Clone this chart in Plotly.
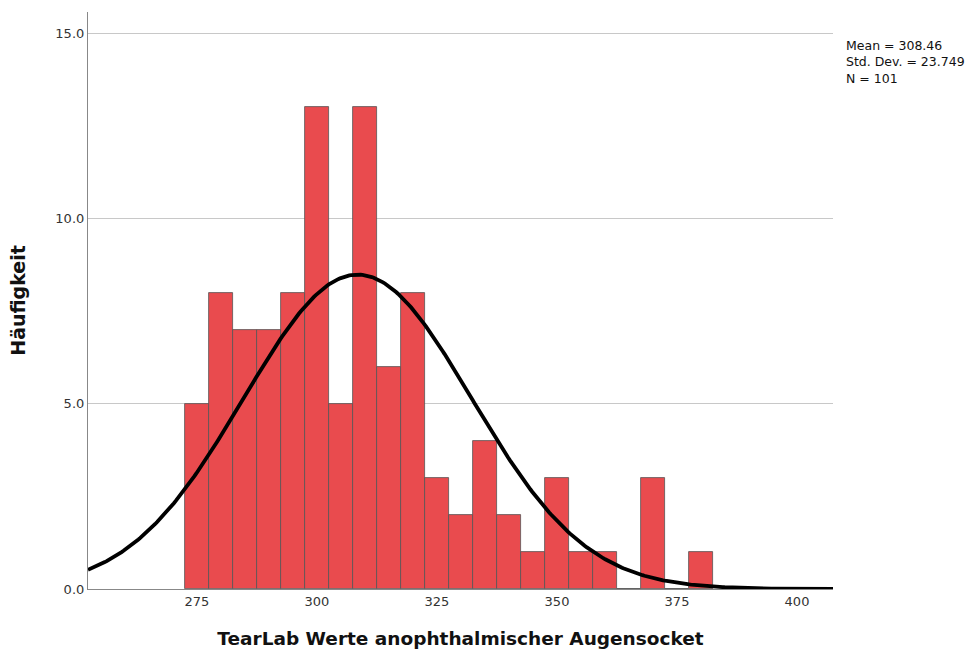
import numpy as np
import plotly.graph_objects as go

# Histogram bins (centers, width 5) and counts
bin_centers = [275, 280, 285, 290, 295, 300, 305, 310, 315, 320, 325, 330,
               335, 340, 345, 350, 355, 360, 365, 370, 375, 380]
counts = [5, 8, 7, 7, 8, 13, 5, 13, 6, 8, 3, 2,
          4, 2, 1, 3, 1, 1, 0, 3, 0, 1]
bin_width = 5

mean_val = 308.46
std_val = 23.749
n_val = 101

x_ticks = [275, 300, 325, 350, 375, 400]
y_ticks = [0, 5, 10, 15]
y_tick_text = ["0.0", "5.0", "10.0", "15.0"]

x_range = [252.3, 407.5]
y_range = [0, 15.57]

stat_lines = [f"Mean = {mean_val:.2f}", f"Std. Dev. = {std_val:.3f}", f"N = {n_val}"]

# Normal curve from the reported mean / SD, scaled to counts
xc = np.linspace(x_range[0], x_range[1], 400)
yc = n_val * bin_width / (std_val * np.sqrt(2 * np.pi)) * np.exp(-0.5 * ((xc - mean_val) / std_val) ** 2)

fig = go.Figure()
fig.add_trace(go.Bar(
    x=bin_centers, y=counts, width=[bin_width] * len(bin_centers),
    marker=dict(color="#E94B4E", line=dict(color="#555555", width=0.8)),
    showlegend=False, hoverinfo="x+y",
))
fig.add_trace(go.Scatter(
    x=xc, y=yc, mode="lines", line=dict(color="black", width=3.8),
    showlegend=False, hoverinfo="skip",
))

font_family = "DejaVu Sans"
plot_top, plot_bottom = 12, 589

fig.update_layout(
    width=980, height=657,
    margin=dict(l=88, r=147, t=plot_top, b=657 - plot_bottom),
    paper_bgcolor="white", plot_bgcolor="white",
    bargap=0,
    font=dict(family=font_family, color="#333333", size=13),
    xaxis=dict(
        range=x_range, tickvals=x_ticks, ticks="", showgrid=False,
        showline=True, linecolor="#888888", linewidth=1.2,
        zeroline=False, tickfont=dict(size=13, color="#333333"),
        title=dict(text="<b>TearLab Werte anophthalmischer Augensocket</b>",
                   font=dict(size=18.5, color="#111111"), standoff=24),
    ),
    yaxis=dict(
        range=y_range, tickvals=y_ticks, ticktext=y_tick_text, ticks="",
        showgrid=True, gridcolor="#c8c8c8", gridwidth=1,
        showline=True, linecolor="#888888", linewidth=1.2,
        zeroline=False, tickfont=dict(size=13, color="#333333"),
        title=dict(text="<b>Häufigkeit</b>", font=dict(size=19, color="#111111"), standoff=24),
    ),
    annotations=[dict(
        x=1.0155, y=(plot_bottom - 37) / (plot_bottom - plot_top),
        xref="paper", yref="paper", xanchor="left", yanchor="top",
        align="left", showarrow=False, borderpad=0,
        text="<br>".join(stat_lines),
        font=dict(size=12.5, color="#111111", family=font_family),
    )],
)

fig.write_html("out.html")
